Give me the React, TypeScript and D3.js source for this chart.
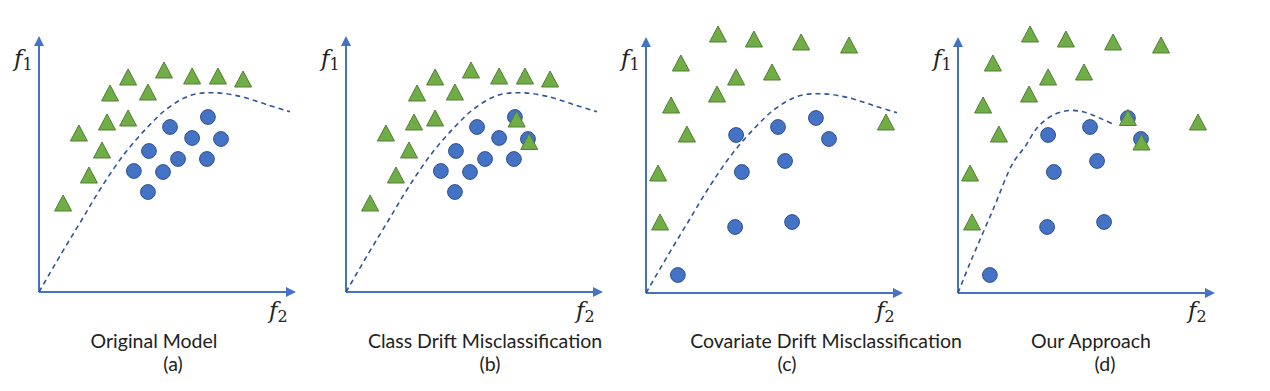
import React from "react";
import * as d3 from "d3";

// all points are in feature units, 0..10 on both axes (f2 horizontal, f1 vertical)
const boundaryOriginal: [number, number][] = [
  [0, 0], [0.9, 1.55], [1.7, 2.88], [2.5, 4.21], [3.43, 5.56], [4.34, 6.61],
  [5.14, 7.36], [6.08, 7.88], [7.01, 7.97], [8.08, 7.81], [9.12, 7.48], [10, 7.21],
];
const boundaryAdapted: [number, number][] = [
  [0, 0], [0.48, 1.2], [1.39, 3.32], [2.19, 5.2], [2.67, 5.85], [3.14, 6.59],
  [3.67, 7.05], [4.33, 7.29], [4.98, 7.25], [5.66, 6.99], [6.25, 6.72],
];

const trianglesBase: [number, number][] = [
  [0.96, 3.56], [1.99, 4.68], [2.51, 5.68], [1.59, 6.36], [2.71, 6.8], [3.55, 6.96],
  [2.83, 7.96], [3.55, 8.6], [4.34, 8.0], [4.98, 8.88], [6.1, 8.64], [7.13, 8.64], [8.13, 8.52],
];
const circlesBase: [number, number][] = [
  [6.73, 7.0], [5.22, 6.6], [6.1, 6.16], [7.25, 6.12], [4.38, 5.64],
  [5.54, 5.32], [6.69, 5.32], [3.78, 4.84], [4.94, 4.8], [4.34, 4.0],
];
const trianglesClassDrift: [number, number][] = [[6.8, 6.92], [7.3, 6.02]];

const trianglesShifted: [number, number][] = [
  [2.87, 10.36], [4.3, 10.16], [6.18, 10.04], [8.09, 9.92], [1.39, 9.2], [3.59, 8.64],
  [5.02, 8.84], [2.83, 7.96], [1.0, 7.52], [1.63, 6.36], [0.48, 4.8], [0.56, 2.84], [9.56, 6.84],
];
const circlesShifted: [number, number][] = [
  [6.77, 7.0], [5.26, 6.64], [3.59, 6.32], [7.29, 6.16], [5.54, 5.28],
  [3.82, 4.84], [3.55, 2.64], [5.82, 2.84], [1.27, 0.72],
];
const trianglesOurs: [number, number][] = [[6.77, 7.02], [7.31, 6.04]];

const titles = ["Original Model", "Class Drift Misclassification", "Covariate Drift Misclassification", "Our Approach"];
const letters = ["(a)", "(b)", "(c)", "(d)"];

const panels = [
  { ox: 39, oy: 292, tx: 154, lx: 173, curve: boundaryOriginal, tri: trianglesBase, circ: circlesBase },
  { ox: 346, oy: 292, tx: 485, lx: 490, curve: boundaryOriginal, tri: trianglesBase, circ: circlesBase, extra: trianglesClassDrift },
  { ox: 646, oy: 293, tx: 826, lx: 787, curve: boundaryOriginal, tri: trianglesShifted, circ: circlesShifted },
  { ox: 958, oy: 293, tx: 1091, lx: 1105, curve: boundaryAdapted, tri: trianglesShifted, circ: circlesShifted, extra: trianglesOurs },
];

const AXIS_W = 251;
const AXIS_H = 250;
const TRI_W = 17;
const TRI_H = 16;

const axisColor = "#4472C4";
const green = "#70AD47";
const greenEdge = "#507E32";
const blue = "#4472C4";
const blueEdge = "#2F528F";
const labelFont = "Lato, 'Open Sans', sans-serif";

const tri = (x: number, y: number) =>
  `M${x},${y - TRI_H / 2}L${x + TRI_W / 2},${y + TRI_H / 2}L${x - TRI_W / 2},${y + TRI_H / 2}Z`;

const Panel = ({ p, i }: { p: any; i: number }) => {
  const x = d3.scaleLinear().domain([0, 10]).range([p.ox, p.ox + AXIS_W]);
  const y = d3.scaleLinear().domain([0, 10]).range([p.oy, p.oy - AXIS_H]);
  const line = d3.line<[number, number]>()
    .x(d => x(d[0]))
    .y(d => y(d[1]))
    .curve(d3.curveCatmullRom);
  const tris = [...p.tri, ...(p.extra || [])];
  return (
    <g>
      <line x1={p.ox} y1={p.oy} x2={x(10) - 2} y2={p.oy} stroke={axisColor} strokeWidth={2} markerEnd="url(#arrow)" />
      <line x1={p.ox} y1={p.oy} x2={p.ox} y2={y(10) + 2} stroke={axisColor} strokeWidth={2} markerEnd="url(#arrow)" />
      <path d={line(p.curve) || ""} fill="none" stroke="#2F5597" strokeWidth={1.6} strokeDasharray="5,4" />
      {p.circ.map((d: [number, number], k: number) => (
        <circle key={"c" + k} cx={x(d[0])} cy={y(d[1])} r={7.4} fill={blue} stroke={blueEdge} strokeWidth={1} />
      ))}
      {tris.map((d: [number, number], k: number) => (
        <path key={"t" + k} d={tri(x(d[0]), y(d[1]))} fill={green} stroke={greenEdge} strokeWidth={1} strokeLinejoin="round" />
      ))}
      <text x={p.ox - 25} y={66} fontFamily="'DejaVu Serif', serif" fontStyle="italic" fontSize={23} fill="#222">
        f<tspan fontStyle="normal" fontSize={16} dy={4}>1</tspan>
      </text>
      <text x={p.ox + 230} y={318} fontFamily="'DejaVu Serif', serif" fontStyle="italic" fontSize={23} fill="#222">
        f<tspan fontStyle="normal" fontSize={16} dy={4}>2</tspan>
      </text>
      <text x={p.tx} y={348} textAnchor="middle" fontFamily={labelFont} fontSize={19.5} fill="#222">
        {titles[i]}
      </text>
      <text x={p.lx} y={371} textAnchor="middle" fontFamily={labelFont} fontSize={19.5} fill="#222">
        {letters[i]}
      </text>
    </g>
  );
};

export default function App() {
  return (
    <div style={{ position: "absolute", left: 0, top: 0 }}>
      <svg width={1270} height={391} style={{ display: "block", background: "#fff" }}>
        <defs>
          <marker id="arrow" viewBox="0 0 10 10" refX={2} refY={5} markerWidth={5} markerHeight={5} orient="auto" markerUnits="strokeWidth">
            <path d="M0,0L10,5L0,10Z" fill={axisColor} />
          </marker>
        </defs>
        {panels.map((p, i) => <Panel key={i} p={p} i={i} />)}
      </svg>
    </div>
  );
}
